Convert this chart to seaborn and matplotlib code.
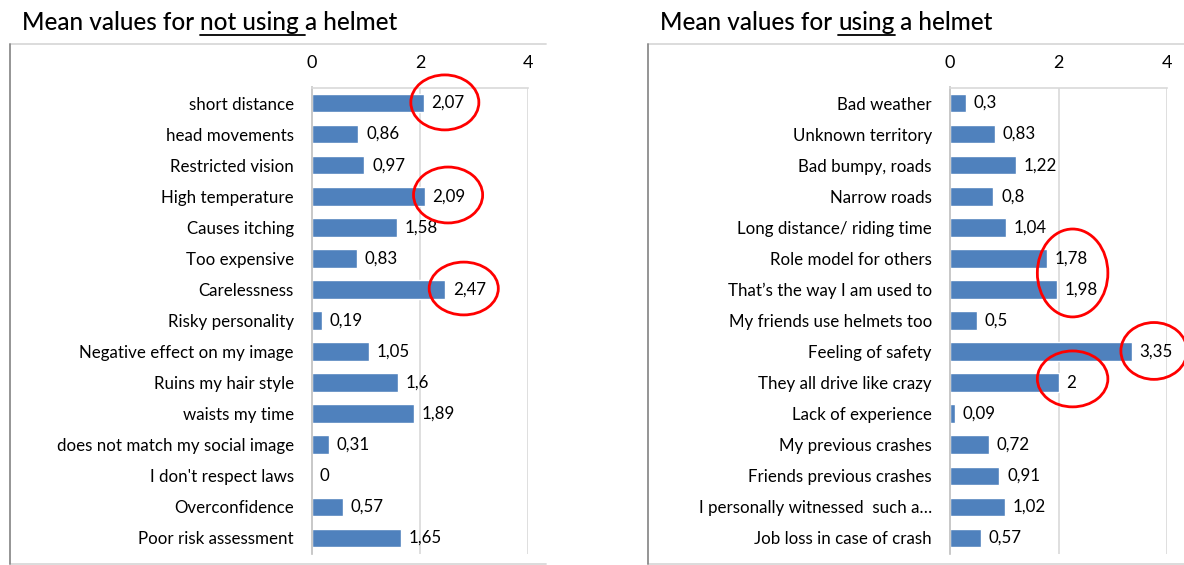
import matplotlib
matplotlib.use('Agg')
import matplotlib.pyplot as plt
from matplotlib.patches import Ellipse
from matplotlib.lines import Line2D
import seaborn as sns

# Data
not_using_labels = ['short distance', 'head movements', 'Restricted vision', 'High temperature',
                    'Causes itching', 'Too expensive', 'Carelessness', 'Risky personality',
                    'Negative effect on my image', 'Ruins my hair style', 'waists my time',
                    'does not match my social image', "I don't respect laws", 'Overconfidence',
                    'Poor risk assessment']
not_using_values = [2.07, 0.86, 0.97, 2.09, 1.58, 0.83, 2.47, 0.19, 1.05, 1.6, 1.89, 0.31, 0, 0.57, 1.65]

using_labels = ['Bad weather', 'Unknown territory', 'Bad bumpy, roads', 'Narrow roads',
                'Long distance/ riding time', 'Role model for others', 'That\u2019s the way I am used to',
                'My friends use helmets too', 'Feeling of safety', 'They all drive like crazy',
                'Lack of experience', 'My previous crashes', 'Friends previous crashes',
                'I personally witnessed  such a\u2026', 'Job loss in case of crash']
using_values = [0.3, 0.83, 1.22, 0.8, 1.04, 1.78, 1.98, 0.5, 3.35, 2, 0.09, 0.72, 0.91, 1.02, 0.57]

x_ticks = [0, 2, 4]

# red circles: (category, x offset from value, y offset, width, height)
not_using_circles = [('short distance', 0.39, -0.02, 1.26, 1.77),
                     ('High temperature', 0.43, -0.04, 1.28, 1.8),
                     ('Carelessness', 0.34, -0.03, 1.28, 1.7)]
using_circles = [('That\u2019s the way I am used to', 0.28, -0.53, 1.3, 2.83),
                 ('Feeling of safety', 0.41, -0.02, 1.22, 1.83),
                 ('They all drive like crazy', 0.26, -0.12, 1.3, 1.8)]

sns.set_theme(style='white')
plt.rcParams['font.family'] = ['Lato', 'DejaVu Sans']

W, H = 1184, 565
fig = plt.figure(figsize=(W / 100, H / 100), dpi=100)

BAR = '#4F81BD'
GRID = '#D9D9D9'


def px_axes(x0, x1, y0, y1):
    return fig.add_axes([x0 / W, 1 - y1 / H, (x1 - x0) / W, (y1 - y0) / H])


def draw_panel(ax, labels, values, circles):
    sns.barplot(x=values, y=labels, orient='h', color=BAR, saturation=1, width=0.6, ax=ax)
    ax.set_xlim(0, 4)
    ax.set_ylim(len(labels) - 0.5, -0.5)
    ax.set_xlabel('')
    ax.set_ylabel('')
    ax.set_xticks(x_ticks)
    ax.set_xticklabels([str(t) for t in x_ticks])
    ax.xaxis.tick_top()
    ax.tick_params(axis='x', length=0, pad=12, labelsize=13, colors='black')
    ax.tick_params(axis='y', which='major', length=0, pad=13, labelsize=12.2, colors='black')
    ax.set_yticks([i + 0.5 for i in range(len(labels) - 1)] + [-0.5], minor=True)
    ax.tick_params(axis='y', which='minor', length=5, color='#BFBFBF', width=1)
    for x in x_ticks[1:]:
        ax.axvline(x, color=GRID, lw=1.2, zorder=0)
    for s in ['right', 'bottom']:
        ax.spines[s].set_visible(False)
    ax.spines['left'].set_color('#BFBFBF')
    ax.spines['top'].set_color(GRID)
    ax.spines['left'].set_linewidth(1.2)
    ax.spines['top'].set_linewidth(1.2)
    txt = [f'{v:g}'.replace('.', ',') for v in values]
    ax.bar_label(ax.containers[0], labels=txt, padding=5.5, fontsize=12.2, color='black')
    for cat, dx, dy, w, h in circles:
        i = labels.index(cat)
        e = Ellipse((values[i] + dx, i + dy), w, h, fill=False, ec='#FF0000', lw=2.0,
                    clip_on=False, zorder=5)
        ax.add_patch(e)


ax1 = px_axes(312, 528, 87.5, 553.5)
draw_panel(ax1, not_using_labels, not_using_values, not_using_circles)
ax2 = px_axes(950, 1167, 87.5, 553.5)
draw_panel(ax2, using_labels, using_values, using_circles)

# chart frames
def fline(xs, ys, color):
    fig.add_artist(Line2D([x / W for x in xs], [1 - y / H for y in ys], color=color, lw=1.3))

fline([9.5, 546], [44, 44], GRID)
fline([9.5, 546], [564, 564], GRID)
fline([9.5, 9.5], [44, 564], '#8C8C8C')
fline([648, 1184], [44, 44], GRID)
fline([648, 1184], [564, 564], GRID)
fline([648, 648], [44, 564], '#8C8C8C')

# titles with underlined part
fig.canvas.draw()
renderer = fig.canvas.get_renderer()


def title(x_px, parts):
    x = x_px / W
    y = 1 - 30 / H
    for text, underline in parts:
        t = fig.text(x, y, text, fontsize=17.5, color='black', va='baseline', ha='left',
                     fontweight='medium')
        bb = t.get_window_extent(renderer)
        if underline:
            uy = y - 5 / H
            fig.add_artist(Line2D([bb.x0 / W, bb.x1 / W], [uy, uy], color='black', lw=1.3))
        x = bb.x1 / W


title(22, [('Mean values for ', False), ('not using ', True), ('a helmet', False)])
title(660, [('Mean values for ', False), ('using', True), (' a helmet', False)])

fig.savefig('out.png', dpi=100)
